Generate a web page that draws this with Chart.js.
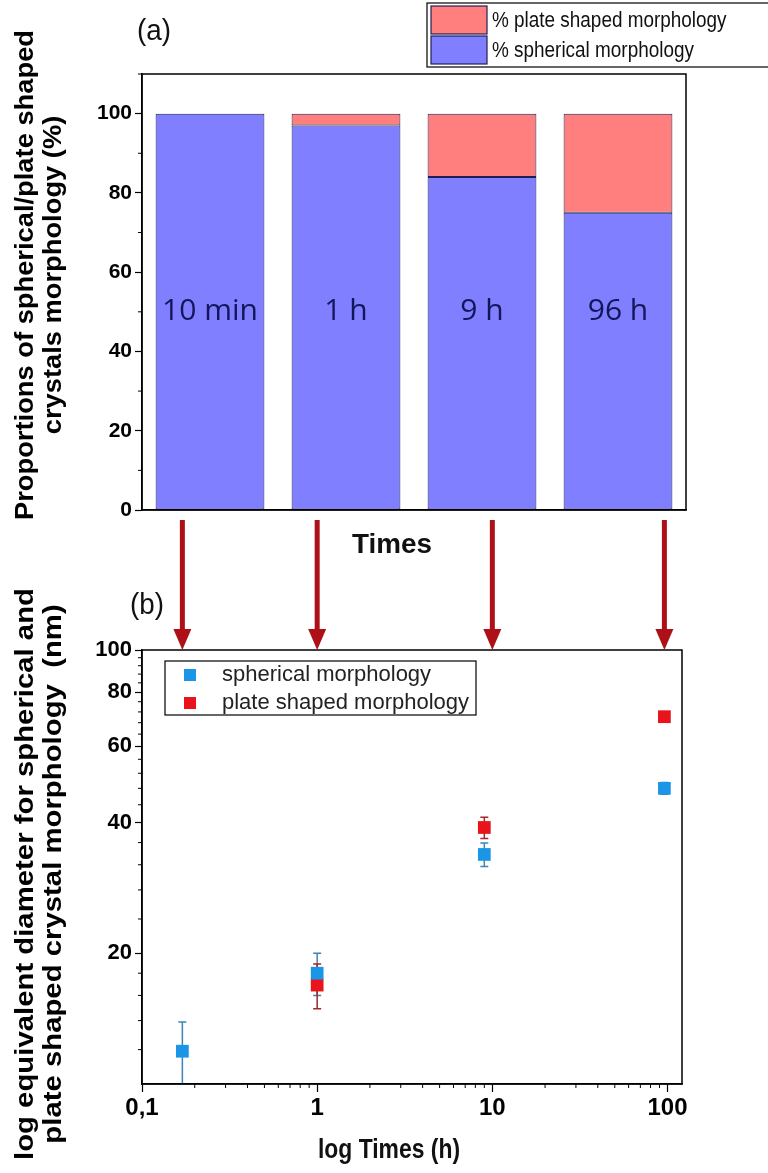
<!DOCTYPE html>
<html>
<head>
<meta charset="utf-8">
<script src="https://cdn.jsdelivr.net/npm/chart.js@4.4.1/dist/chart.umd.min.js"></script>
<style>
  html, body { margin: 0; padding: 0; background: #fff; }
  #wrap { position: relative; width: 768px; height: 1173px; overflow: hidden; }
  #cTop { position: absolute; left: 0; top: 0; }
  #cBot { position: absolute; left: 0; top: 500px; }
</style>
</head>
<body>
<div id="wrap">
  <canvas id="cTop" width="768" height="580" style="width:768px;height:580px"></canvas>
  <canvas id="cBot" width="768" height="673" style="width:768px;height:673px"></canvas>
</div>
<script>
// ---- panel (a): proportions per time ----
const barCats = ['10 min', '1 h', '9 h', '96 h'];
const pctSpherical = [100, 97, 84, 75];
const pctPlate = [0, 3, 16, 25];
const pctTicks = [0, 20, 40, 60, 80, 100];
const pctMinor = [10, 30, 50, 70, 90, 110];

// ---- panel (b): equivalent diameter vs time ----
const timeSph = [0.17, 1, 9, 96];
const diaSph = [11.9, 18, 33.8, 48];
const errSph = [2, 2, 2.1, 1.5];
const timePlate = [1, 9, 96];
const diaPlate = [16.9, 39, 70.2];
const errPlate = [2, 2.2, 0.8];
const xTicks = [0.1, 1, 10, 100];
const xTickLabels = ['0,1', '1', '10', '100'];
const yTicks = [20, 40, 60, 80, 100];
const yMinor = [12, 14, 16, 18, 24, 28, 32, 36, 44, 48, 52, 56, 64, 68, 72, 76, 84, 88, 92, 96];
const decades = [0.1, 1, 10];
const mults = [2, 3, 4, 5, 6, 7, 8, 9];
const arrowTimes = [0.17, 1, 10, 96];

const BLUE_BAR = '#7f7fff', RED_BAR = '#ff7f7f', BAR_EDGE = '#1e1e55';
const BLUE_PT = '#1b95e6', RED_PT = '#e8131b';
const SANS = 'Liberation Sans, Arial, sans-serif';

// text squeezed or stretched along its baseline to a given length
function fitText(ctx, text, cx, cy, font, width, rot) {
  ctx.save();
  ctx.font = font;
  ctx.textAlign = 'center';
  ctx.textBaseline = 'middle';
  ctx.translate(cx, cy);
  if (rot) ctx.rotate(rot);
  ctx.scale(width / ctx.measureText(text).width, 1);
  ctx.fillText(text, 0, 0);
  ctx.restore();
}

function sideTitle(id, lines, x0, cy, len) {
  return {
    id,
    afterDraw(chart) {
      const ctx = chart.ctx;
      ctx.save();
      ctx.fillStyle = '#000';
      ctx.font = 'bold 26px ' + SANS;
      const k = len / ctx.measureText(lines[0]).width;
      lines.forEach((t, i) => {
        ctx.save();
        ctx.translate(x0 + i * 28, cy);
        ctx.rotate(-Math.PI / 2);
        ctx.scale(k, 1);
        ctx.textAlign = 'center';
        ctx.textBaseline = 'middle';
        ctx.fillText(t, 0, 0);
        ctx.restore();
      });
      ctx.restore();
    }
  };
}

// outline of the plot area
const frame = {
  id: 'frame',
  afterDraw(chart) {
    const { ctx, chartArea: a } = chart;
    ctx.save();
    ctx.strokeStyle = '#000';
    ctx.lineWidth = 1.5;
    ctx.strokeRect(a.left, a.top, a.width, a.height);
    ctx.restore();
  }
};

function minorTicks(id, axis, values, len) {
  return {
    id,
    afterDraw(chart) {
      const s = chart.scales[axis], a = chart.chartArea, ctx = chart.ctx;
      ctx.save();
      ctx.strokeStyle = '#000';
      ctx.lineWidth = 1;
      values.forEach(v => {
        if (v < s.min || v > s.max) return;
        const p = s.getPixelForValue(v);
        ctx.beginPath();
        if (s.isHorizontal()) { ctx.moveTo(p, a.bottom); ctx.lineTo(p, a.bottom + len); }
        else { ctx.moveTo(a.left, p); ctx.lineTo(a.left - len, p); }
        ctx.stroke();
      });
      ctx.restore();
    }
  };
}

// time label written inside each bar
const barLabels = {
  id: 'barLabels',
  afterDatasetsDraw(chart) {
    const { ctx, scales: { y } } = chart;
    const meta = chart.getDatasetMeta(0);
    ctx.save();
    ctx.fillStyle = '#15155a';
    ctx.font = '30px "Open Sans", sans-serif';
    ctx.textAlign = 'center';
    ctx.textBaseline = 'middle';
    meta.data.forEach((bar, i) => ctx.fillText(barCats[i], bar.x, y.getPixelForValue(50)));
    ctx.restore();
  }
};

const topLegend = {
  id: 'topLegend',
  afterDraw(chart) {
    const ctx = chart.ctx;
    const ds = chart.data.datasets;
    const rows = [ds[1], ds[0]];
    ctx.save();
    ctx.strokeStyle = '#000';
    ctx.lineWidth = 1.2;
    ctx.strokeRect(427, 3, 400, 64);
    rows.forEach((d, i) => {
      const y0 = 6 + i * 30;
      ctx.fillStyle = d.backgroundColor;
      ctx.fillRect(431, y0, 56, 28);
      ctx.strokeStyle = BAR_EDGE;
      ctx.strokeRect(431, y0, 56, 28);
      ctx.fillStyle = '#111';
      ctx.save();
      ctx.font = '22px ' + SANS;
      ctx.textBaseline = 'middle';
      ctx.translate(492, y0 + 15);
      ctx.scale(0.86, 1);
      ctx.fillText(d.label, 0, 0);
      ctx.restore();
    });
    ctx.fillStyle = '#111';
    fitText(ctx, '(a)', 154, 32, '30px ' + SANS, 34);
    fitText(ctx, 'Times', 392, 546, 'bold 27px ' + SANS, 80);
    ctx.restore();
  }
};

new Chart(document.getElementById('cTop'), {
  type: 'bar',
  data: {
    labels: barCats,
    datasets: [
      { label: '% spherical morphology', data: pctSpherical, backgroundColor: BLUE_BAR,
        borderColor: BAR_EDGE, borderWidth: 1, borderSkipped: false, barPercentage: 0.8, categoryPercentage: 1 },
      { label: '% plate shaped morphology', data: pctPlate, backgroundColor: RED_BAR,
        borderColor: BAR_EDGE, borderWidth: 1, borderSkipped: false, barPercentage: 0.8, categoryPercentage: 1 }
    ]
  },
  options: {
    responsive: false,
    animation: false,
    layout: { padding: { top: 74, right: 82, left: 0, bottom: 0 } },
    plugins: { legend: { display: false }, tooltip: { enabled: false } },
    scales: {
      x: {
        stacked: true,
        grid: { display: false },
        border: { color: '#000', width: 1.5 },
        ticks: { display: false },
        afterFit: s => { s.height = 70; }
      },
      y: {
        stacked: true,
        min: 0,
        max: 110,
        afterBuildTicks: s => { s.ticks = pctTicks.map(v => ({ value: v })); },
        ticks: { color: '#000', font: { family: SANS, size: 21, weight: 'bold' }, padding: 3 },
        grid: { drawOnChartArea: false, tickLength: 7, tickColor: '#000', tickWidth: 1.2 },
        border: { color: '#000', width: 1.5 },
        afterFit: s => { s.width = 142; }
      }
    }
  },
  plugins: [frame, minorTicks('minorPct', 'y', pctMinor, 4), barLabels, topLegend,
            sideTitle('titleA', ['Proportions of spherical/plate shaped', 'crystals morphology (%)'], 26, 275, 490)]
});

// ---- panel (b) ----
const errorBars = {
  id: 'errorBars',
  beforeDatasetsDraw(chart) {
    const { ctx, chartArea: a, scales: { x, y } } = chart;
    ctx.save();
    ctx.beginPath();
    ctx.rect(a.left, a.top, a.width, a.height);
    ctx.clip();
    chart.data.datasets.forEach(ds => {
      ctx.strokeStyle = ds.errColor;
      ctx.lineWidth = 1.5;
      ds.data.forEach((pt, i) => {
        const e = ds.errors[i];
        const px = x.getPixelForValue(pt.x);
        const y1 = y.getPixelForValue(pt.y + e), y2 = y.getPixelForValue(pt.y - e);
        ctx.beginPath();
        ctx.moveTo(px, y1); ctx.lineTo(px, y2);
        ctx.moveTo(px - 4, y1); ctx.lineTo(px + 4, y1);
        ctx.moveTo(px - 4, y2); ctx.lineTo(px + 4, y2);
        ctx.stroke();
      });
    });
    ctx.restore();
  }
};

const arrows = {
  id: 'arrows',
  afterDraw(chart) {
    const { ctx, chartArea: a, scales: { x } } = chart;
    ctx.save();
    ctx.strokeStyle = '#ad1117';
    ctx.fillStyle = '#ad1117';
    ctx.lineWidth = 5;
    arrowTimes.forEach(t => {
      const px = x.getPixelForValue(t);
      ctx.beginPath();
      ctx.moveTo(px, 20);
      ctx.lineTo(px, a.top - 18);
      ctx.stroke();
      ctx.beginPath();
      ctx.moveTo(px - 9, a.top - 21);
      ctx.lineTo(px + 9, a.top - 21);
      ctx.lineTo(px, a.top);
      ctx.closePath();
      ctx.fill();
    });
    ctx.restore();
  }
};

const botLegend = {
  id: 'botLegend',
  afterDraw(chart) {
    const { ctx, chartArea: a } = chart;
    const ds = chart.data.datasets;
    ctx.save();
    ctx.strokeStyle = '#000';
    ctx.lineWidth = 1.2;
    ctx.strokeRect(a.left + 23, a.top + 11, 311, 54);
    ctx.font = '22px ' + SANS;
    ctx.textBaseline = 'middle';
    ds.forEach((d, i) => {
      const cy = a.top + 25 + i * 28;
      ctx.fillStyle = d.backgroundColor;
      ctx.fillRect(a.left + 42, cy - 6, 12, 12);
      ctx.fillStyle = '#222';
      ctx.fillText(d.label, a.left + 80, cy);
    });
    ctx.fillStyle = '#111';
    fitText(ctx, '(b)', 147, 106, '30px ' + SANS, 34);
    fitText(ctx, 'log Times (h)', 389, 650, 'bold 28px ' + SANS, 142);
    ctx.restore();
  }
};

const xMinorVals = [];
decades.forEach(d => mults.forEach(m => xMinorVals.push(d * m)));

new Chart(document.getElementById('cBot'), {
  type: 'scatter',
  data: {
    datasets: [
      { label: 'spherical morphology', data: timeSph.map((t, i) => ({ x: t, y: diaSph[i] })),
        errors: errSph, errColor: '#3b86b8', backgroundColor: BLUE_PT, borderColor: BLUE_PT,
        pointStyle: 'rect', pointRadius: 9, borderWidth: 0 },
      { label: 'plate shaped morphology', data: timePlate.map((t, i) => ({ x: t, y: diaPlate[i] })),
        errors: errPlate, errColor: '#a3262a', backgroundColor: RED_PT, borderColor: RED_PT,
        pointStyle: 'rect', pointRadius: 9, borderWidth: 0 }
    ]
  },
  options: {
    responsive: false,
    animation: false,
    layout: { padding: { top: 150, right: 86, left: 0, bottom: 0 } },
    plugins: { legend: { display: false }, tooltip: { enabled: false } },
    scales: {
      x: {
        type: 'logarithmic',
        min: 0.1,
        max: 121,
        afterBuildTicks: s => { s.ticks = xTicks.map(v => ({ value: v })); },
        ticks: { color: '#000', font: { family: SANS, size: 24, weight: 'bold' }, padding: 2,
                 maxRotation: 0, callback: v => xTickLabels[xTicks.indexOf(v)] },
        grid: { drawOnChartArea: false, tickLength: 8, tickColor: '#000', tickWidth: 1.2 },
        border: { color: '#000', width: 1.5 },
        afterFit: s => { s.height = 89; }
      },
      y: {
        type: 'logarithmic',
        min: 10,
        max: 100,
        afterBuildTicks: s => { s.ticks = yTicks.map(v => ({ value: v })); },
        ticks: { color: '#000', font: { family: SANS, size: 22, weight: 'bold' }, padding: 3,
                 callback: v => String(v) },
        grid: { drawOnChartArea: false, tickLength: 7, tickColor: '#000', tickWidth: 1.2 },
        border: { color: '#000', width: 1.5 },
        afterFit: s => { s.width = 142; }
      }
    }
  },
  plugins: [frame, minorTicks('minorX', 'x', xMinorVals, 4), minorTicks('minorY', 'y', yMinor, 4),
            errorBars, botLegend, arrows,
            sideTitle('titleB', ['log equivalent diameter for spherical and', 'plate shaped crystal morphology  (nm)'], 26, 374, 572)]
});
</script>
</body>
</html>
